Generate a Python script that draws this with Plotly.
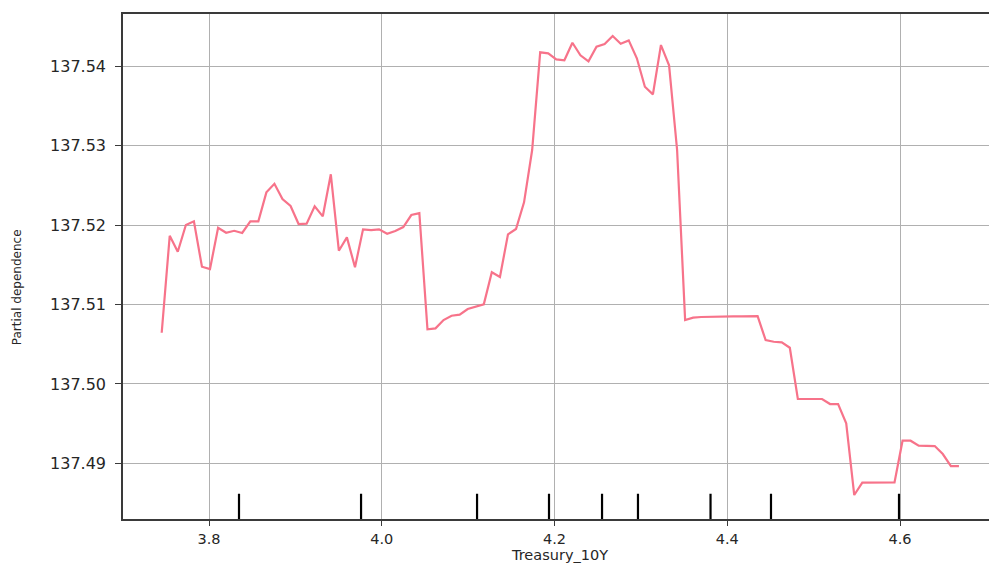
import plotly.graph_objects as go

# Grid of Treasury_10Y values (x) and partial dependence (y)
treasury_10y = [
    3.7452, 3.7545, 3.7638, 3.7732, 3.7825, 3.7918, 3.8011, 3.8105, 3.8198, 3.8291,
    3.8384, 3.8478, 3.8571, 3.8664, 3.8757, 3.8850, 3.8944, 3.9037, 3.9130, 3.9223,
    3.9317, 3.9410, 3.9503, 3.9596, 3.9690, 3.9783, 3.9876, 3.9969, 4.0062, 4.0156,
    4.0249, 4.0342, 4.0435, 4.0529, 4.0622, 4.0715, 4.0808, 4.0902, 4.0995, 4.1088,
    4.1181, 4.1274, 4.1368, 4.1461, 4.1554, 4.1647, 4.1741, 4.1834, 4.1927, 4.2020,
    4.2114, 4.2207, 4.2300, 4.2393, 4.2486, 4.2580, 4.2673, 4.2766, 4.2859, 4.2953,
    4.3046, 4.3139, 4.3232, 4.3326, 4.3419, 4.3512, 4.3605, 4.3698, 4.3792, 4.3885,
    4.3978, 4.4071, 4.4165, 4.4258, 4.4351, 4.4444, 4.4538, 4.4631, 4.4724, 4.4817,
    4.4910, 4.5004, 4.5097, 4.5190, 4.5283, 4.5377, 4.5470, 4.5563, 4.5656, 4.5750,
    4.5843, 4.5936, 4.6029, 4.6122, 4.6216, 4.6309, 4.6402, 4.6495, 4.6589, 4.6682,
]

partial_dependence = [
    137.50645, 137.51866, 137.51665, 137.52001, 137.52048, 137.51476, 137.51447, 137.51967, 137.51904, 137.51929,
    137.51901, 137.52048, 137.52048, 137.52413, 137.52521, 137.52329, 137.52241, 137.52014, 137.52018, 137.52237,
    137.52111, 137.52640, 137.51678, 137.51846, 137.51469, 137.51947, 137.51938, 137.51947, 137.51892, 137.51926,
    137.51976, 137.52127, 137.52152, 137.50688, 137.50700, 137.50805, 137.50859, 137.50872, 137.50943, 137.50977,
    137.51003, 137.51406, 137.51346, 137.51884, 137.51951, 137.52287, 137.52946, 137.54176, 137.54164, 137.54088,
    137.54076, 137.54297, 137.54139, 137.54063, 137.54247, 137.54281, 137.54382, 137.54285, 137.54327, 137.54101,
    137.53743, 137.53647, 137.54268, 137.54013, 137.52946, 137.50805, 137.50834, 137.50843, 137.50847, 137.50847,
    137.50850, 137.50851, 137.50852, 137.50853, 137.50855, 137.50553, 137.50531, 137.50524, 137.50456, 137.49810,
    137.49810, 137.49810, 137.49810, 137.49747, 137.49747, 137.49504, 137.48601, 137.48756, 137.48756, 137.48756,
    137.48756, 137.48760, 137.49285, 137.49285, 137.49222, 137.49218, 137.49218, 137.49117, 137.48966, 137.48966,
]

# Deciles of the feature (rug marks)
deciles = [3.8347, 3.9760, 4.1103, 4.1936, 4.2550, 4.2966, 4.3806, 4.4506, 4.5988]

x_ticks = [3.8, 4.0, 4.2, 4.4, 4.6]
x_tick_labels = ["3.8", "4.0", "4.2", "4.4", "4.6"]
y_ticks = [137.49, 137.50, 137.51, 137.52, 137.53, 137.54]
y_tick_labels = ["137.49", "137.50", "137.51", "137.52", "137.53", "137.54"]

x_label = "Treasury_10Y"
y_label = "Partial dependence"

FONT = "DejaVu Sans"
TXT = "#262626"

fig = go.Figure()
fig.add_trace(go.Scatter(
    x=treasury_10y, y=partial_dependence, mode="lines",
    line=dict(color="#f7738a", width=2.2), showlegend=False, hoverinfo="x+y",
))

shapes = []
for d in deciles:
    shapes.append(dict(type="line", xref="x", yref="y domain", x0=d, x1=d, y0=0, y1=0.05,
                       line=dict(color="black", width=2.2)))

fig.update_layout(
    width=989, height=566,
    margin=dict(l=123, r=0, t=14, b=47, autoexpand=False),
    paper_bgcolor="white", plot_bgcolor="white",
    font=dict(family=FONT, color=TXT, size=15),
    shapes=shapes,
    annotations=[
        dict(text=y_label, xref="paper", yref="paper", x=-0.123, y=0.46,
             xanchor="center", yanchor="middle", textangle=-90, showarrow=False,
             font=dict(family=FONT, size=12, color=TXT)),
        dict(text=x_label, xref="paper", yref="paper", x=0.5046, y=-0.052,
             xanchor="center", yanchor="top", showarrow=False,
             font=dict(family=FONT, size=14.5, color=TXT)),
    ],
)

fig.update_xaxes(
    range=[3.7004, 4.703], tickvals=x_ticks, ticktext=x_tick_labels,
    showgrid=True, gridcolor="#b0b0b0", gridwidth=1.2,
    showline=True, linecolor="#3a3a3a", linewidth=1.5, mirror=True,
    ticks="outside", ticklen=5, tickwidth=1.2, tickcolor="#3a3a3a",
    tickfont=dict(family=FONT, size=14.5, color=TXT), zeroline=False,
    ticklabelstandoff=1, automargin=False,
)
fig.update_yaxes(
    range=[137.48299, 137.54659], tickvals=y_ticks, ticktext=y_tick_labels,
    showgrid=True, gridcolor="#b0b0b0", gridwidth=1.2,
    showline=True, linecolor="#3a3a3a", linewidth=1.5, mirror=False,
    ticks="outside", ticklen=6, tickwidth=1.2, tickcolor="#3a3a3a",
    tickfont=dict(family=FONT, size=16, color=TXT), zeroline=False,
    ticklabelstandoff=6, automargin=False,
)

fig.write_html(
    "out.html",
    config={"displayModeBar": False},
    post_script="document.body.style.margin='0';document.body.style.overflow='hidden';",
)
